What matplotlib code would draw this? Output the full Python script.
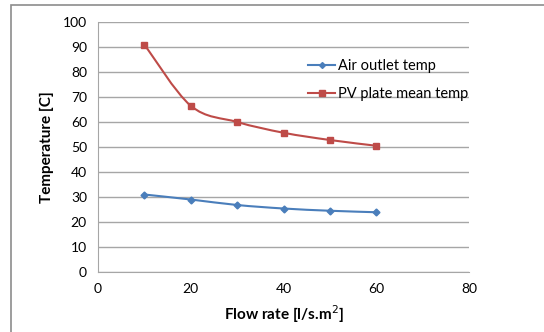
import matplotlib.pyplot as plt
from matplotlib.path import Path
from matplotlib.patches import PathPatch, Rectangle
from matplotlib.lines import Line2D

plt.rcParams['font.family'] = ['Lato', 'DejaVu Sans']

# data
flow = [10, 20, 30, 40, 50, 60]
air_outlet = [31.0, 29.0, 26.8, 25.4, 24.5, 23.9]
pv_plate = [91.0, 66.5, 60.0, 55.7, 52.8, 50.5]


def smooth_path(xs, ys):
    # Excel style smoothed line: cubic bezier between points
    pts = list(zip(xs, ys))
    verts = [pts[0]]
    codes = [Path.MOVETO]
    n = len(pts)
    for i in range(n - 1):
        p0 = pts[i - 1] if i > 0 else pts[i]
        p1 = pts[i]
        p2 = pts[i + 1]
        p3 = pts[i + 2] if i + 2 < n else pts[i + 1]
        c1 = (p1[0] + (p2[0] - p0[0]) / 6, p1[1] + (p2[1] - p0[1]) / 6)
        c2 = (p2[0] - (p3[0] - p1[0]) / 6, p2[1] - (p3[1] - p1[1]) / 6)
        verts += [c1, c2, p2]
        codes += [Path.CURVE4] * 3
    return Path(verts, codes)


fig = plt.figure(figsize=(5.44, 3.32), dpi=100)
fig.patches.append(Rectangle((11 / 544, -0.1), 1.2, 1 - 5 / 332 + 0.1, transform=fig.transFigure,
                             fill=False, edgecolor='#8c8c8c', linewidth=1.2))
ax = fig.add_axes([98 / 544, 1 - 272 / 332, 371 / 544, 250 / 332])

blue = '#4a7ebb'
red = '#be4b48'
ax.add_patch(PathPatch(smooth_path(flow, air_outlet), fill=False, edgecolor=blue, linewidth=1.5, zorder=3))
ax.add_patch(PathPatch(smooth_path(flow, pv_plate), fill=False, edgecolor=red, linewidth=1.5, zorder=3))
ax.plot(flow, air_outlet, linestyle='none', marker='D', markersize=3.5, color=blue, zorder=4)
ax.plot(flow, pv_plate, linestyle='none', marker='s', markersize=5, color=red, zorder=4)

ax.set_xlim(0, 80)
ax.set_ylim(0, 100)
ax.set_xticks(range(0, 81, 20))
ax.set_yticks(range(0, 101, 10))
ax.grid(axis='y', color='#a6a6a6', linewidth=1)
ax.set_axisbelow(True)
for s in ['top', 'right']:
    ax.spines[s].set_visible(False)
for s in ['left', 'bottom']:
    ax.spines[s].set_color('#a6a6a6')
ax.tick_params(length=0, labelsize=10, colors='#000000', pad=8)
ax.set_xlabel('Flow rate [l/s.m$^2$]', fontsize=11, fontweight='bold', labelpad=6)
ax.set_ylabel('Temperature [C]', fontsize=11, fontweight='bold', labelpad=6)

handles = [Line2D([], [], color=blue, marker='D', markersize=3, linewidth=1.5),
           Line2D([], [], color=red, marker='s', markersize=4.5, linewidth=1.5)]
ax.legend(handles, ['Air outlet temp', 'PV plate mean temp'], loc='upper left',
          bbox_to_anchor=(0.53, 0.905), frameon=False, fontsize=10.5,
          handlelength=1.9, handletextpad=0.2, labelspacing=0.95)

fig.savefig('out.png', dpi=100)
